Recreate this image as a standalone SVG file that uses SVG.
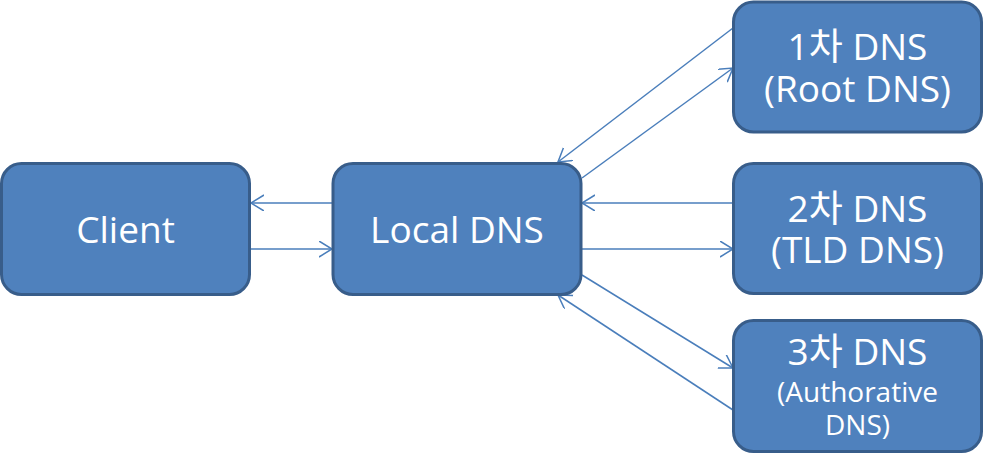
<svg xmlns="http://www.w3.org/2000/svg" width="984" height="461" viewBox="0 0 984 461">
<style>
.box{fill:#4F81BD;stroke:#385D8A;stroke-width:3}
.t{fill:#FFFFFF;font-family:"Open Sans","Noto Sans CJK KR",sans-serif;font-size:37px;text-anchor:middle}
.s{font-size:28px}
.c{fill:none;stroke:#4A7EBB;stroke-width:1.5}
</style>
<defs>
<marker id="ah" markerUnits="userSpaceOnUse" markerWidth="16" markerHeight="18" refX="13" refY="8" orient="auto">
<path d="M0,0 L13,8 L0,16" fill="none" stroke="#4A7EBB" stroke-width="1.5"/>
</marker>
</defs>
<rect width="984" height="461" fill="#FFFFFF"/>
<g id="connectors">
<line class="c" x1="333" y1="203" x2="251" y2="203" marker-end="url(#ah)"/>
<line class="c" x1="251" y1="249" x2="332" y2="249" marker-end="url(#ah)"/>
<line class="c" x1="733" y1="203" x2="582" y2="203" marker-end="url(#ah)"/>
<line class="c" x1="582" y1="249" x2="733" y2="249" marker-end="url(#ah)"/>
<line class="c" x1="733" y1="28" x2="558" y2="162" marker-end="url(#ah)"/>
<line class="c" x1="582" y1="178" x2="733" y2="68" marker-end="url(#ah)"/>
<line class="c" x1="582" y1="275" x2="733" y2="368" marker-end="url(#ah)"/>
<line class="c" x1="733" y1="410" x2="558" y2="295" marker-end="url(#ah)"/>
</g>
<g id="client">
<rect class="box" x="1.5" y="163.5" width="248" height="131" rx="20"/>
<text class="t" x="125.5" y="243">Client</text>
</g>
<g id="local-dns">
<rect class="box" x="333" y="163.5" width="248" height="131" rx="20"/>
<text class="t" x="457" y="243">Local DNS</text>
</g>
<g id="root-dns">
<rect class="box" x="733.5" y="2" width="248" height="130" rx="20"/>
<text class="t" x="857.5" y="60">1차 DNS</text>
<text class="t" x="857.5" y="102">(Root DNS)</text>
</g>
<g id="tld-dns">
<rect class="box" x="733.5" y="163.5" width="248" height="130" rx="20"/>
<text class="t" x="857.5" y="222">2차 DNS</text>
<text class="t" x="857.5" y="263">(TLD DNS)</text>
</g>
<g id="auth-dns">
<rect class="box" x="733.5" y="320.5" width="248" height="131" rx="20"/>
<text class="t" x="857.5" y="365">3차 DNS</text>
<text class="t s" x="857.5" y="402">(Authorative</text>
<text class="t s" x="857.5" y="435">DNS)</text>
</g>
</svg>
